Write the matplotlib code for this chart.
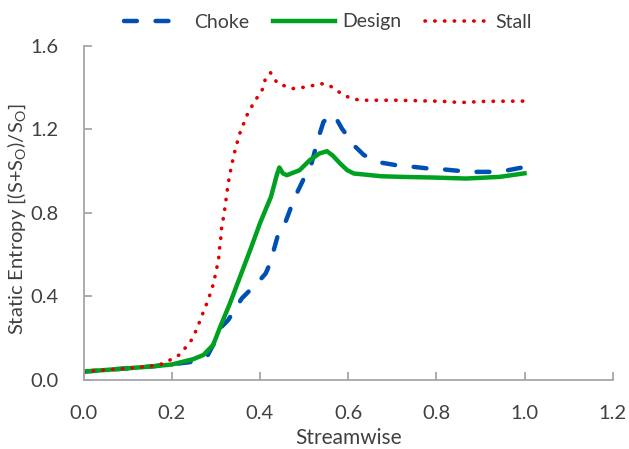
import matplotlib
matplotlib.use("Agg")
import matplotlib.pyplot as plt

# Data
choke_x = [0.0, 0.05, 0.10, 0.15, 0.20, 0.24, 0.259, 0.282, 0.294, 0.313, 0.328, 0.359, 0.374, 0.39, 0.413,
           0.423, 0.442, 0.455, 0.471, 0.486, 0.505, 0.517, 0.532, 0.544, 0.56, 0.571, 0.586,
           0.617, 0.636, 0.678, 0.709, 0.748, 0.782, 0.82, 0.855, 0.89, 0.924, 0.963, 1.0]
choke_y = [0.04, 0.048, 0.056, 0.064, 0.075, 0.085, 0.096, 0.12, 0.168, 0.255, 0.287, 0.391, 0.423, 0.455, 0.51,
           0.559, 0.703, 0.74, 0.83, 0.905, 0.989, 1.037, 1.156, 1.236, 1.27, 1.26, 1.204,
           1.116, 1.077, 1.04, 1.029, 1.021, 1.013, 1.008, 1.001, 0.997, 0.997, 1.005, 1.02]

design_x = [0.0, 0.05, 0.10, 0.15, 0.20, 0.249, 0.272, 0.294, 0.31, 0.332, 0.355, 0.378,
            0.4, 0.417, 0.425, 0.438, 0.444, 0.452, 0.461, 0.49, 0.513, 0.535, 0.552, 0.565,
            0.582, 0.598, 0.613, 0.628, 0.675, 0.72, 0.79, 0.867, 0.944, 1.0]
design_y = [0.04, 0.048, 0.056, 0.064, 0.074, 0.1, 0.12, 0.168, 0.255, 0.367, 0.495, 0.623,
            0.75, 0.837, 0.877, 0.98, 1.018, 0.99, 0.981, 1.005, 1.053, 1.085, 1.096, 1.075,
            1.037, 1.005, 0.989, 0.986, 0.976, 0.973, 0.97, 0.965, 0.973, 0.99]

stall_x = [0.0, 0.05, 0.10, 0.15, 0.18, 0.2, 0.217, 0.232, 0.245, 0.255, 0.264, 0.272, 0.281, 0.289,
           0.296, 0.3, 0.306, 0.308, 0.311, 0.313, 0.317, 0.321, 0.324, 0.327, 0.331, 0.336,
           0.341, 0.347, 0.353, 0.362, 0.371, 0.381, 0.394, 0.406, 0.412, 0.424, 0.44,
           0.475, 0.51, 0.536, 0.555, 0.572, 0.59, 0.609, 0.628, 0.713, 0.813, 0.855, 0.913, 1.0]
stall_y = [0.04, 0.048, 0.056, 0.066, 0.078, 0.1, 0.12, 0.157, 0.192, 0.236, 0.283, 0.327, 0.375, 0.423,
           0.471, 0.519, 0.57, 0.623, 0.674, 0.727, 0.775, 0.83, 0.878, 0.926, 0.977, 1.03,
           1.078, 1.126, 1.174, 1.222, 1.27, 1.309, 1.354, 1.393, 1.44, 1.472, 1.42,
           1.396, 1.405, 1.42, 1.415, 1.39, 1.364, 1.348, 1.34, 1.34, 1.335, 1.329, 1.335, 1.336]

x_ticks = [0.0, 0.2, 0.4, 0.6, 0.8, 1.0, 1.2]
y_ticks = [0.0, 0.4, 0.8, 1.2, 1.6]

plt.rcParams['font.family'] = ['Lato', 'DejaVu Sans']

W, H = 629, 449
fig = plt.figure(figsize=(W / 100, H / 100), dpi=100)
ax = fig.add_axes([0.1328, 0.1537, 0.8413, 0.7439])

ax.plot(choke_x, choke_y, color='#0050B4', lw=3.2, linestyle=(0, (2.9, 4.2)), label='Choke',
        dash_capstyle='round')
ax.plot(design_x, design_y, color='#00A020', lw=3.2, label='Design')
ax.plot(stall_x, stall_y, color='#E00000', lw=2.6, linestyle=(0, (0.1, 2.6)), label='Stall',
        dash_capstyle='round')

ax.set_xlim(0, 1.2)
ax.set_ylim(0, 1.6)
ax.set_xticks(x_ticks)
ax.set_yticks(y_ticks)
ax.set_xticklabels([f"{v:.1f}" for v in x_ticks])
ax.set_yticklabels([f"{v:.1f}" for v in y_ticks])

for s in ['top', 'right']:
    ax.spines[s].set_visible(False)
for s in ['left', 'bottom']:
    ax.spines[s].set_color('#A6A6A6')
    ax.spines[s].set_linewidth(1.3)
ax.tick_params(direction='in', length=6, width=1.3, color='#A6A6A6', labelsize=14.5,
               labelcolor='#404040')
ax.tick_params(axis='x', pad=18)
ax.tick_params(axis='y', pad=18)

ax.set_xlabel('Streamwise', fontsize=15, color='#404040', labelpad=4)
ax.set_ylabel(r'Static Entropy [(S+S$_\mathregular{O}$)/S$_\mathregular{O}$]', fontsize=14.5,
              color='#404040')
ax.yaxis.set_label_coords((28 - 83.5) / 529.2, 0.48)

handles, labels = ax.get_legend_handles_labels()
leg = fig.legend(handles, labels, loc='center', bbox_to_anchor=(328 / W, 1 - 22 / H), ncol=3,
                 frameon=False, fontsize=14, handlelength=3.2, columnspacing=1.2,
                 handletextpad=0.4)
for t in leg.get_texts():
    t.set_color('#404040')

fig.savefig('out.png', dpi=100)
